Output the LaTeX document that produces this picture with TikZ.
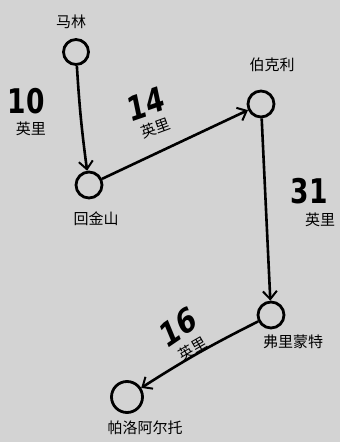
\documentclass[tikz,border=0pt]{standalone}
\usepackage{fontspec}
\newfontfamily\cjk{Noto Sans CJK SC}
\newfontfamily\numfont{DejaVu Sans}
\usetikzlibrary{arrows.meta}
\definecolor{bg}{RGB}{211,211,211}
\tikzset{
  stop/.style={circle,draw=black,line width=2.8pt,inner sep=0pt,minimum size=#1},
  stop/.default=25pt,
  conn/.style={draw=black,line width=2.6pt,-{Straight Barb[length=8pt,width=14pt,line width=2pt]}},
  place/.style={font=\cjk\fontsize{15}{15}\selectfont,text=black},
  dist/.style={font=\numfont\bfseries\fontsize{34}{34}\selectfont,text=black,xscale=0.78,inner sep=0pt},
  unit/.style={font=\cjk\fontsize{15}{15}\selectfont,text=black,inner sep=0pt},
}
\begin{document}
\begin{tikzpicture}[x=1pt,y=-1pt]
\fill[bg] (0,0) rectangle (340,442);
\useasboundingbox (0,0) rectangle (340,442);
% stops
\node[stop=25pt] (marin) at (76,52) {};
\node[stop=26pt] (gold) at (89,185) {};
\node[stop=26pt] (berk) at (261,104) {};
\node[stop=26pt] (frem) at (271,315) {};
\node[stop=31pt] (palo) at (127,397) {};
% place labels
\node[place] (lmarin) at (71,22) {马林};
\node[place] (lgold) at (96,219) {回金山};
\node[place] (lberk) at (272,65) {伯克利};
\node[place] (lfrem) at (293,342) {弗里蒙特};
\node[place] (lpalo) at (145,428) {帕洛阿尔托};
% connectors
\draw[conn] (marin) to[bend right=2] (gold);
\draw[conn] (gold) to (berk);
\draw[conn] (berk) to (frem);
\draw[conn] (frem) to[bend right=3] (palo);
% distances
\node[dist] (d10) at (26,101) {10};
\node[unit] (u10) at (31,129) {英里};
\node[dist,rotate=15] (d14) at (146,104) {14};
\node[unit,rotate=20] (u14) at (156,128) {英里};
\node[dist] (d31) at (309,191) {31};
\node[unit] (u31) at (320,220) {英里};
\node[dist,rotate=28] (d16) at (178,327) {16};
\node[unit,rotate=30] (u16) at (193,349) {英里};
\end{tikzpicture}
\end{document}
